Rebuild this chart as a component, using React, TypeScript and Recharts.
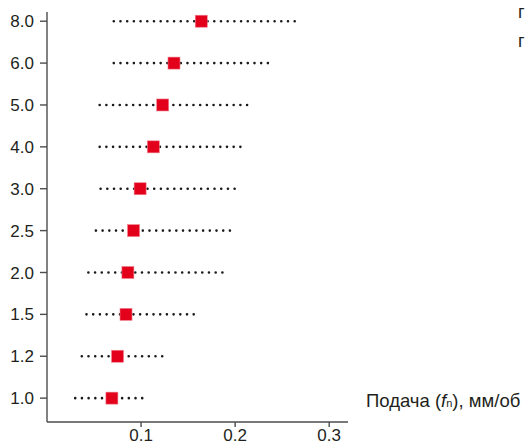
import { ReferenceLine, Scatter, ScatterChart, XAxis, YAxis } from "recharts"

// depth-of-cut rows, bottom to top
const depthLabels = ["1.0", "1.2", "1.5", "2.0", "2.5", "3.0", "4.0", "5.0", "6.0", "8.0"]
const feedMin = [0.03, 0.037, 0.042, 0.044, 0.052, 0.057, 0.056, 0.056, 0.071, 0.071]
const feedRec = [0.069, 0.075, 0.084, 0.086, 0.092, 0.099, 0.113, 0.123, 0.135, 0.164]
const feedMax = [0.103, 0.124, 0.158, 0.19, 0.196, 0.2, 0.208, 0.214, 0.235, 0.264]
const xTicks = [0.1, 0.2, 0.3]

const font = '"Liberation Sans", Arial, sans-serif'
const ink = "#231f20"

const points = feedRec.map((x, i) => ({ x, y: i }))

function Square(props: { cx?: number; cy?: number }) {
  const { cx = 0, cy = 0 } = props
  return <rect x={cx - 6} y={cy - 6} width={12} height={12} fill="#e3001b" stroke="#f08090" strokeWidth={0.6} />
}

export default function App() {
  return (
    <div style={{ position: "absolute", left: 0, top: 0, width: 525, height: 441, background: "#fff", fontFamily: font, overflow: "hidden" }}>
      <ScatterChart width={525} height={441} margin={{ top: 12, right: 177, bottom: 0, left: 7 }}>
        <XAxis
          type="number"
          dataKey="x"
          domain={[0, 0.32]}
          ticks={xTicks}
          tickFormatter={(v: number) => v.toFixed(1)}
          height={19}
          tickSize={5}
          tickMargin={2}
          stroke="#4d4d4d"
          strokeWidth={1.4}
          tick={{ fill: ink, fontSize: 17, fontFamily: font }}
        />
        <YAxis
          type="number"
          dataKey="y"
          domain={[-0.57, 9.22]}
          ticks={depthLabels.map((_, i) => i)}
          tickFormatter={(v: number) => depthLabels[v] ?? ""}
          width={40}
          tickSize={7}
          tickMargin={6}
          stroke="#4d4d4d"
          strokeWidth={1.4}
          interval={0}
          tick={{ fill: ink, fontSize: 17, fontFamily: font }}
        />
        {depthLabels.map((_, i) => (
          <ReferenceLine
            key={i}
            segment={[
              { x: feedMin[i], y: i },
              { x: feedMax[i], y: i },
            ]}
            stroke="#1a1a1a"
            strokeWidth={2.6}
            strokeDasharray="0 6.7"
            strokeLinecap="round"
            ifOverflow="visible"
          />
        ))}
        <Scatter data={points} shape={<Square />} isAnimationActive={false} />
      </ScatterChart>
      <div style={{ position: "absolute", left: 366, top: 390, fontSize: 18.5, color: ink, whiteSpace: "nowrap" }}>
        Подача (<i>f</i>
        <span style={{ fontSize: 11 }}>n</span>), мм/об
      </div>
      <div style={{ position: "absolute", left: 518, top: 2, fontSize: 18, color: ink }}>г</div>
      <div style={{ position: "absolute", left: 518, top: 31, fontSize: 18, color: ink }}>г</div>
    </div>
  )
}
